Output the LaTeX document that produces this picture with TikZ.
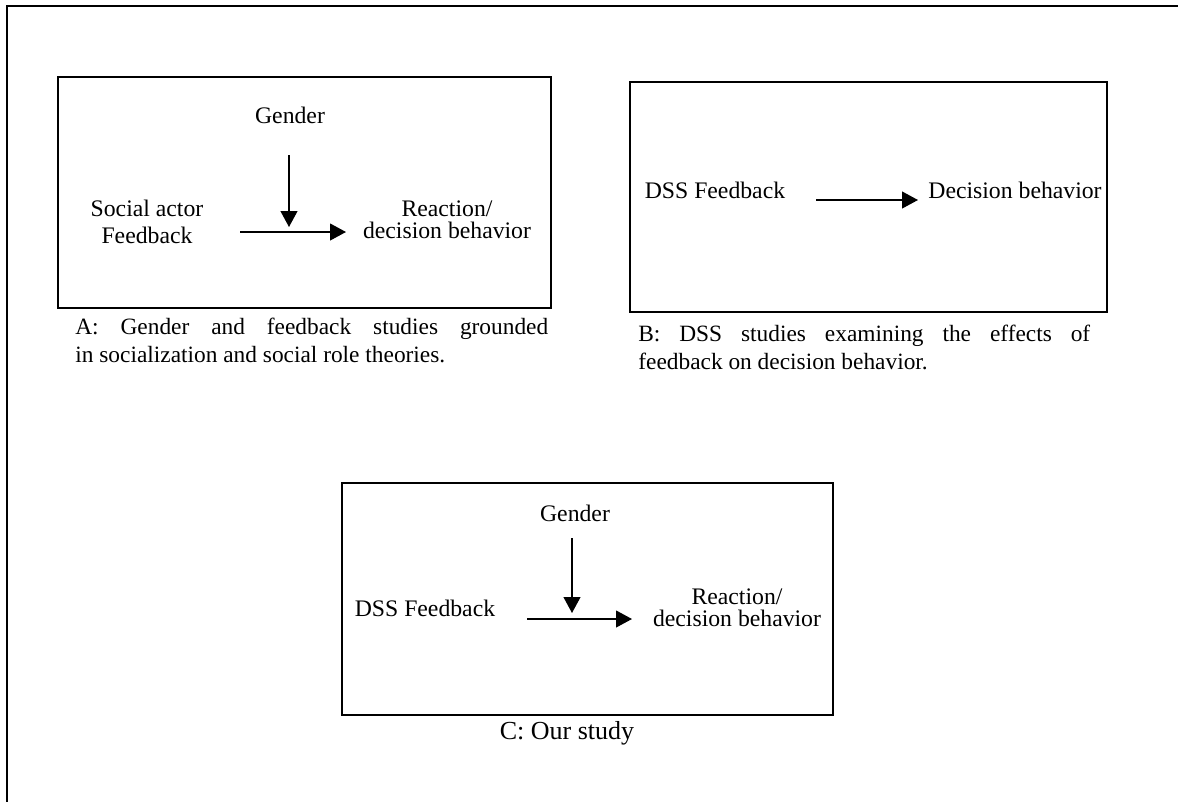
\documentclass[tikz,border=0pt]{standalone}
\usepackage{fontspec}
\setmainfont{Liberation Serif}
\usetikzlibrary{arrows.meta}
\begin{document}
\begin{tikzpicture}[
    x=0.02cm, y=-0.02cm, % une unité = un pixel de la figure
    every node/.style={font=\fontsize{13.5}{15}\selectfont, inner sep=0pt},
    panel/.style={draw, line width=0.85pt},
    factor/.style={align=center},
    outcome/.style={align=center, font=\fontsize{13.5}{12.5}\selectfont},
    caption/.style={align=justify, anchor=north west,
        font=\fontsize{13.3}{15.6}\selectfont},
    link/.style={-{Triangle[length=9pt,width=9.5pt]}, line width=0.85pt}
]
\useasboundingbox (0,0) rectangle (1178,802);
% Cadre extérieur
\draw[line width=1.5pt] (7,802) -- (7,6) -- (1178,6);

% Panneau A
\draw[panel] (58,77) rectangle (551,308);
\node[factor] (genderA) at (290,115) {Gender};
\node[factor] (socialA) at (147,222) {Social actor\\Feedback};
\node[outcome] (reactA) at (447,220) {Reaction/\\decision behavior};
\coordinate (gA1) at (289,155);
\coordinate (gA2) at (289,227);
\coordinate (fA1) at (240,232);
\coordinate (fA2) at (346,232);
\draw[link] (gA1) -- (gA2);
\draw[link] (fA1) -- (fA2);
\node[caption, text width=9.46cm] (capA) at (75,318)
    {A: Gender and feedback studies grounded\linebreak in socialization and social role theories.};

% Panneau B
\draw[panel] (630,82) rectangle (1107,312);
\node[factor] (dssB) at (715,190) {DSS Feedback};
\node[factor] (decB) at (1015,190) {Decision behavior};
\coordinate (fB1) at (816,200);
\coordinate (fB2) at (918,200);
\draw[link] (fB1) -- (fB2);
\node[caption, text width=9.04cm] (capB) at (638,325)
    {B: DSS studies examining the effects of\linebreak feedback on decision behavior.};

% Panneau C
\draw[panel] (342,483) rectangle (833,715);
\node[factor] (genderC) at (575,513) {Gender};
\node[factor] (dssC) at (425,608) {DSS Feedback};
\node[outcome] (reactC) at (737,608) {Reaction/\\decision behavior};
\coordinate (gC1) at (572,538);
\coordinate (gC2) at (572,613);
\coordinate (fC1) at (527,619);
\coordinate (fC2) at (632,619);
\draw[link] (gC1) -- (gC2);
\draw[link] (fC1) -- (fC2);
\node[font=\fontsize{14.8}{16}\selectfont] (capC) at (567,733) {C: Our study};
\end{tikzpicture}
\end{document}
